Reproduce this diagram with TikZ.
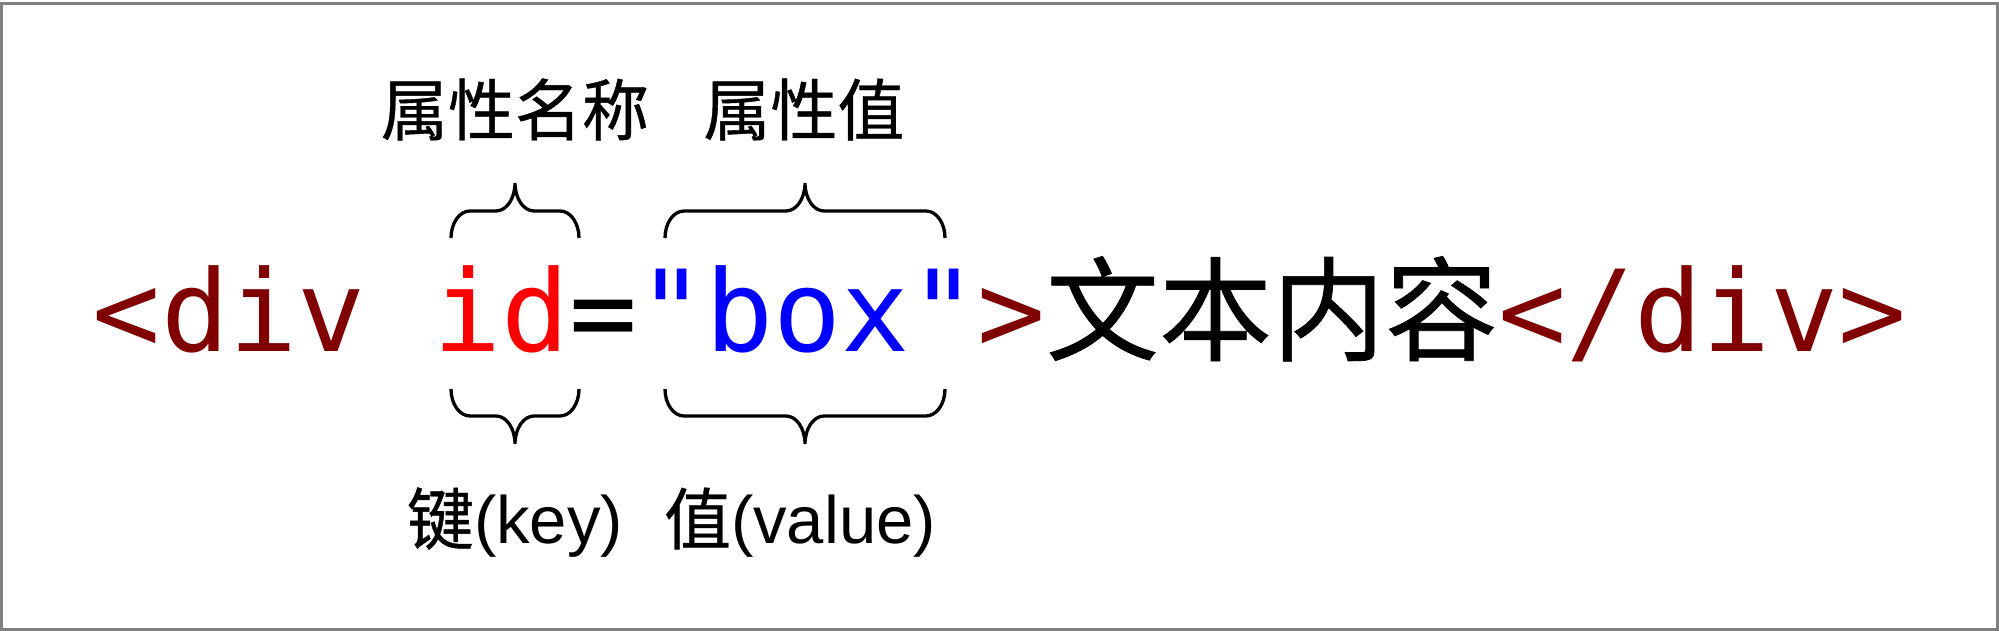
\documentclass[tikz,border=0pt]{standalone}
\usepackage{fontspec}
\setmainfont{Liberation Sans}
\newfontfamily\codefont{DejaVu Sans Mono}
\newfontfamily\cjk[FakeBold=0.6]{Noto Sans CJK SC}
\usetikzlibrary{positioning,calc}

\definecolor{tagcolor}{HTML}{800000}
\definecolor{namecolor}{HTML}{FF0000}
\definecolor{valuecolor}{HTML}{0000FF}
\definecolor{framecolor}{HTML}{808080}

\tikzset{
  codetext/.style={font=\codefont\fontsize{32.15pt}{38pt}\selectfont, inner sep=0pt, outer sep=0pt},
  cjktext/.style={font=\cjk\fontsize{32.15pt}{38pt}\selectfont, inner sep=0pt, outer sep=0pt},
  labeltext/.style={font=\fontsize{19.06pt}{23pt}\selectfont, inner sep=0pt, anchor=base},
  bracestyle/.style={line width=0.94pt}
}

% 花括号: 左x, 右x, 端点y, 方向(-1向上, 1向下)
\newcommand{\attrbrace}[4]{%
  \draw[bracestyle] ({#1},{#3})
    .. controls ({#1},{#3+15*(#4)}) and ({#1+8.5},{#3+27*(#4)}) .. ({#1+19},{#3+27*(#4)})
    -- ({(#1+#2)/2-19},{#3+27*(#4)})
    .. controls ({(#1+#2)/2-8.5},{#3+27*(#4)}) and ({(#1+#2)/2},{#3+39.5*(#4)}) .. ({(#1+#2)/2},{#3+55*(#4)})
    .. controls ({(#1+#2)/2},{#3+39.5*(#4)}) and ({(#1+#2)/2+8.5},{#3+27*(#4)}) .. ({(#1+#2)/2+19},{#3+27*(#4)})
    -- ({#2-19},{#3+27*(#4)})
    .. controls ({#2-8.5},{#3+27*(#4)}) and ({#2},{#3+15*(#4)}) .. ({#2},{#3});
}

\begin{document}
\begin{tikzpicture}[x=0.01cm, y=-0.01cm]
\useasboundingbox (0,0) rectangle (1999,631);
\draw[framecolor, line width=0.94pt] (1.5,3.3) rectangle (1998,629.5);

% 代码行
\node[codetext, text=tagcolor, anchor=base west] (opentag) at (93,352) {<div};
\node[codetext, text=namecolor, base right=19.35pt of opentag] (attrname) {id};
\node[codetext, base right=0pt of attrname] (equal) {=};
\node[codetext, text=valuecolor, base right=0pt of equal] (attrvalue) {"box"};
\node[codetext, text=tagcolor, base right=0pt of attrvalue] (closebracket) {>};
\node[cjktext, base right=0pt of closebracket] (content) {文本内容};
\node[codetext, text=tagcolor, base right=0pt of content] (endtag) {</div>};

% 上方花括号和标签
\attrbrace{451}{579}{238}{-1}
\attrbrace{665}{945}{238}{-1}
\node[labeltext] (namelabel) at (515,135) {\cjk 属性名称};
\node[labeltext] (valuelabel) at (804,135) {\cjk 属性值};

% 下方花括号和标签
\attrbrace{451}{579}{389}{1}
\attrbrace{665}{945}{389}{1}
\node[labeltext] (keylabel) at (515,544) {{\cjk 键}(key)};
\node[labeltext] (vallabel) at (800,544) {{\cjk 值}(value)};
\end{tikzpicture}
\end{document}
